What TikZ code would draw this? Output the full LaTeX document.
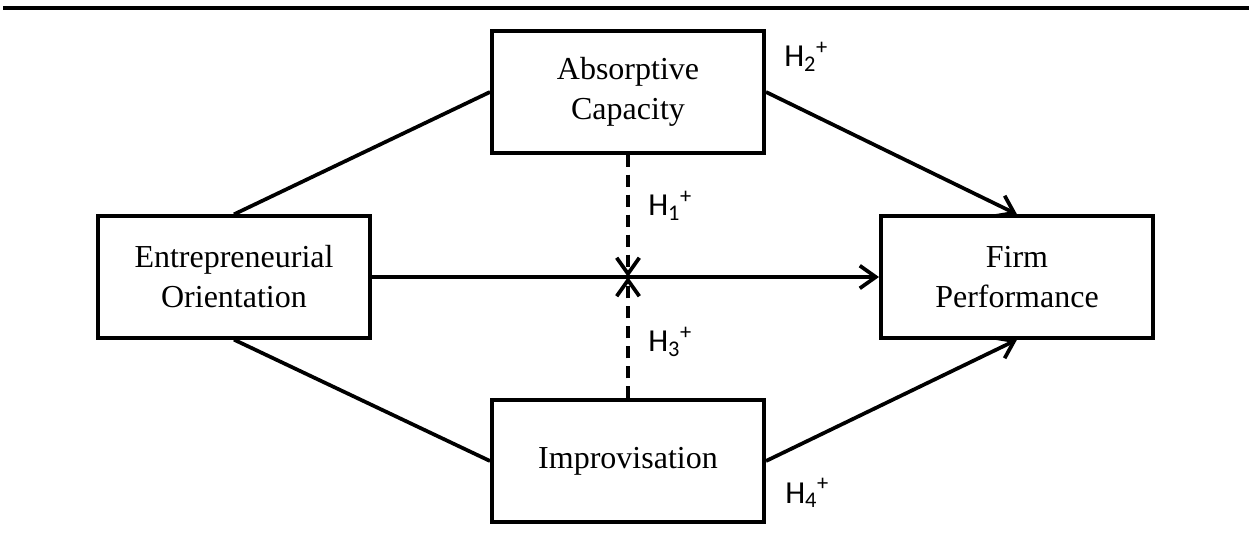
\documentclass[tikz,border=0pt]{standalone}
\usepackage{fontspec}
\setmainfont{Liberation Serif}
\newfontfamily\hypfont{Carlito}
\usepackage{tikz}
\usetikzlibrary{arrows.meta,calc,positioning}

\tikzset{
    construct/.style={draw, line width=3pt, minimum width=204pt, minimum height=91pt,
        align=center, font=\fontsize{24}{30}\selectfont, inner sep=0pt},
    link/.style={line width=2.8pt},
    effect/.style={line width=2.8pt, -{Straight Barb[length=12pt,width=17pt]}},
    moderation/.style={effect, dash pattern=on 9pt off 6pt},
    hyp/.style={anchor=base west, font=\hypfont\fontsize{24}{28}\selectfont, inner sep=0pt}
}

\begin{document}
\begin{tikzpicture}[x=0.75pt, y=-0.75pt]
    \useasboundingbox (0,0) rectangle (1249,541);

    % Rule on top
    \draw[line width=3.6pt] (3,8) -- (1249,8);

    % Constructs
    \node[construct] (eo) at (234,277) {Entrepreneurial\\Orientation};
    \node[construct] (ac) at (628,92) {Absorptive\\Capacity};
    \node[construct] (im) at (628,461) {Improvisation};
    \node[construct] (fp) at (1017,277) {Firm\\Performance};

    % Links from EO
    \draw[link] (eo.north) -- (ac.west);
    \draw[link] (eo.south) -- (im.west);

    % Main effects
    \draw[effect] (ac.east) -- (fp.north);
    \draw[effect] (im.east) -- (fp.south);
    \draw[effect] (eo.east) -- (fp.west);

    % Moderation
    \coordinate (meet) at (eo.east -| ac.south);
    \draw[moderation] (ac.south) -- (meet);
    \draw[moderation] (im.north) -- (meet);

    % Hypotheses
    \node[hyp] (h1) at (648,216) {H\textsubscript{1}\textsuperscript{+}};
    \node[hyp] (h2) at (784,67) {H\textsubscript{2}\textsuperscript{+}};
    \node[hyp] (h3) at (648,352) {H\textsubscript{3}\textsuperscript{+}};
    \node[hyp] (h4) at (785,503) {H\textsubscript{4}\textsuperscript{+}};
\end{tikzpicture}
\end{document}
